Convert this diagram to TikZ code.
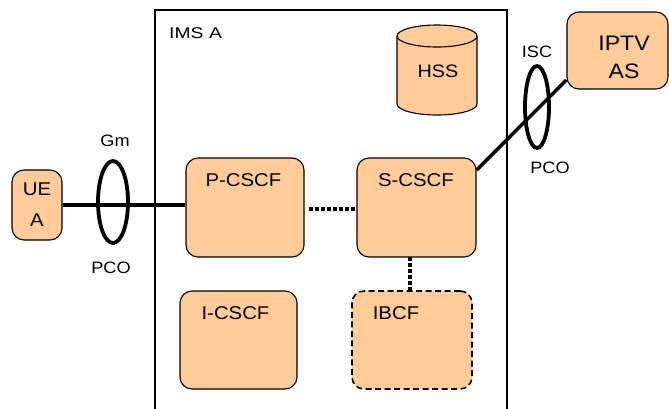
\documentclass[tikz,border=0pt]{standalone}
\usepackage{fontspec}
\setmainfont{Liberation Sans}[FakeStretch=1.1]
\newfontfamily\widefont{Liberation Sans}[FakeStretch=1.25]
\begin{document}
\begin{tikzpicture}[x=1pt,y=-1pt,
  box/.style={draw=black, line width=1.1pt, fill=peach, rounded corners=12pt, inner sep=0pt},
  lab/.style={font=\fontsize{18.5}{20}\selectfont, inner sep=0pt},
  small/.style={font=\fontsize{16.5}{18}\selectfont, inner sep=0pt},
  big/.style={font=\fontsize{21}{28}\selectfont, inner sep=0pt, align=center},
  thickline/.style={line width=3.5pt},
  dotline/.style={line width=3.5pt, dash pattern=on 4pt off 2pt},
  ring/.style={draw, line width=3.8pt}]
\definecolor{peach}{HTML}{FFCC99}
\useasboundingbox (0,0) rectangle (669,408);
% IMS A frame (open bottom)
\draw[line width=1.1pt] (155,410) -- (155,10) -- (507,10) -- (507,410);
\node[inner sep=0pt, anchor=west, font=\widefont\fontsize{15.5}{17}\selectfont] (ims) at (169,33) {IMS A};
% boxes
\node[box, minimum width=50pt, minimum height=70pt, align=center, font=\fontsize{18.5}{31}\selectfont] (ue) at (37,205) {UE\\A};
\node[box, minimum width=118pt, minimum height=99pt] (pcscf) at (245,207.5) {};
\node[lab] (pcscft) at (243.5,180.5) {P-CSCF};
\node[box, minimum width=119pt, minimum height=99pt] (scscf) at (416.5,207.5) {};
\node[lab] (scscft) at (416,180.5) {S-CSCF};
\node[box, minimum width=117pt, minimum height=98pt] (icscf) at (238.5,340) {};
\node[lab] (icscft) at (235.5,313.5) {I-CSCF};
\node[box, dash pattern=on 6pt off 3.5pt, line width=1.6pt, minimum width=120pt, minimum height=98pt] (ibcf) at (412,340) {};
\node[lab] (ibcft) at (396,313.5) {IBCF};
\node[box, minimum width=101pt, minimum height=77pt] (iptv) at (617.5,50.5) {};
\node[big] (iptvt) at (624,57) {IPTV\\AS};
% HSS cylinder
\draw[line width=1.1pt, fill=peach] (397,36) -- (397,104) arc[start angle=180, end angle=0, x radius=40, y radius=11] -- (477,36) arc[start angle=0, end angle=-180, x radius=40, y radius=11] -- cycle;
\draw[line width=1.1pt] (397,36) arc[start angle=180, end angle=0, x radius=40, y radius=11];
\node[font=\fontsize{18}{20}\selectfont, inner sep=0pt] (hss) at (438,71.5) {HSS};
% connections
\draw[thickline] (ue.east |- 0,205) -- (pcscf.west |- 0,205);
\draw[thickline] (scscf.east |- 0,170) -- (iptv.west |- 0,80);
\draw[dotline] (309,209) -- (scscf.west |- 0,209);
\draw[dotline] (410,257) -- (410,291);
% reference points
\draw[ring] (113,202) ellipse[x radius=15, y radius=41];
\node[small] (gm) at (115,141) {Gm};
\node[small] (pco1) at (111,268) {PCO};
\draw[ring] (537,107) ellipse[x radius=12, y radius=41];
\node[small] (isc) at (537,52) {ISC};
\node[small] (pco2) at (550,168) {PCO};
\end{tikzpicture}
\end{document}
